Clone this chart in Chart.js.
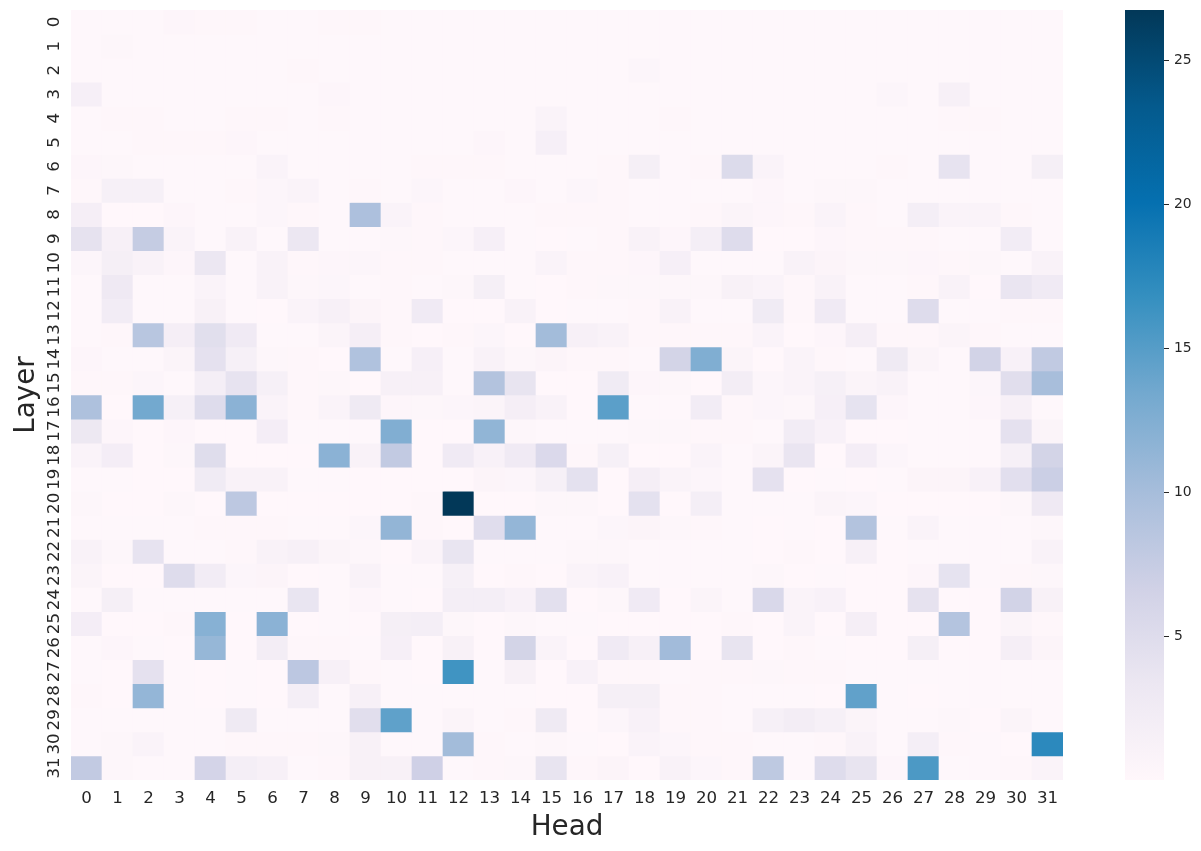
<!DOCTYPE html>
<html>
<head>
<meta charset="utf-8">
<style>
html,body{margin:0;padding:0;background:#fff;width:1201px;height:851px;overflow:hidden}
canvas{position:absolute;top:0;display:block}
</style>
<script src="https://cdn.jsdelivr.net/npm/chart.js@4"></script>
</head>
<body>
<canvas id="main" width="1201" height="851" style="left:0"></canvas>
<canvas id="bar" width="76" height="851" style="left:1125px"></canvas>
<script>
const heads = Array.from({length:32},(_,i)=>String(i));
const layers = Array.from({length:32},(_,i)=>i);
const vmin = 0.0, vmax = 26.74;
const colorbarTicks = [5,10,15,20,25];
const pubu = ['#fff7fb','#ece7f2','#d0d1e6','#a6bddb','#74a9cf','#3690c0','#0570b0','#045a8d','#023858'];

const values = [
/* 0*/[.1,.1,.1,.4,.2,.2,.1,.1,  .2,.2,.1,.1,.1,.1,.1,.1,  .1,.1,.1,.1,.1,.1,.1,.1,  .1,.1,.1,.1,.1,.1,.1,.1],
/* 1*/[.1,.3,.1,.1,.1,.1,.1,.1,  .1,.1,.1,.1,.1,.1,.1,.1,  .1,.1,.1,.1,.1,.1,.1,.1,  .1,.1,.1,.1,.1,.1,.1,.1],
/* 2*/[.1,.1,.1,.1,.1,.1,.1,.2,  .1,.1,.1,.1,.1,.1,.1,.1,  .1,.1,.5,.1,.1,.1,.1,.1,  .1,.1,.1,.1,.1,.1,.1,.1],
/* 3*/[1.6,.1,.1,.1,.1,.1,.1,.1,  .4,.1,.1,.1,.1,.1,.1,.1,  .1,.1,.1,.1,.1,.1,.1,.1,  .1,.1,.5,.1,1.4,.1,.1,.1],
/* 4*/[.1,.2,.2,.1,.1,.2,.2,.1,  .2,.1,.1,.1,.1,.1,.1,.9,  .1,.1,.1,.2,.1,.1,.1,.1,  .1,.1,.1,.1,.2,.2,.1,.1],
/* 5*/[.1,.1,.2,.2,.2,.4,.1,.1,  .1,.1,.1,.1,.1,.4,.1,1.6,  .1,.1,.1,.1,.1,.1,.1,.1,  .1,.1,.1,.1,.1,.1,.1,.1],
/* 6*/[.4,.3,.1,.1,.1,.1,.8,.1,  .1,.1,.1,.2,.2,.2,.1,.1,  .1,.2,1.7,.1,.2,5.2,.8,.1,  .1,.1,.2,.1,3.9,.1,.1,1.7],
/* 7*/[.2,1.5,1.5,.1,.1,.2,.5,.9,  .1,.2,.1,.5,.1,.1,.4,.1,  .5,.2,.1,.1,.1,.1,.4,.1,  .3,.3,.1,.1,.1,.1,.1,.1],
/* 8*/[1.8,.05,.05,.4,.1,.1,.5,.2,  .1,9.5,.9,.2,.1,.1,.1,.2,  .2,.2,.1,.1,.2,.7,.4,.2,  .8,.2,.1,1.9,.9,.9,.2,.1],
/* 9*/[4.1,1.4,7.6,.9,.1,1.0,.1,3.4,  .1,.1,.3,.2,.5,1.6,.1,.05,  .1,.2,1.0,.4,1.9,5.0,.05,.05,  .4,.2,.2,.2,.1,.1,2.2,.1],
/*10*/[.5,1.7,1.0,.4,3.3,.1,1.0,.2,  .4,.5,.2,.2,.1,.1,.1,.9,  .2,.2,.4,1.6,.1,.1,.1,1.1,  .6,.3,.3,.4,.2,.3,.1,1.1],
/*11*/[.1,2.9,.1,.1,.8,.1,1.0,.3,  .5,.1,.2,.1,.3,1.7,.1,.05,  .2,.3,.3,.3,.3,1.3,.8,.2,  1.0,.1,.1,.2,1.0,.05,3.6,2.7],
/*12*/[.1,2.3,.1,.1,1.3,.1,.05,.9,  1.4,.6,.2,2.7,.05,.05,1.0,.05,  .1,.1,.2,1.0,.1,.1,2.6,.2,  2.7,.1,.1,5.0,.1,.1,.2,.2],
/*13*/[.1,.2,8.6,1.8,4.6,2.7,.1,.1,  .7,1.8,.2,.05,.2,.5,.05,10.2,  1.4,1.1,.2,.2,.2,.2,.9,.05,  .4,1.8,.2,.2,.7,.2,.1,.1],
/*14*/[.4,.1,.1,.7,4.2,1.5,.3,.2,  .05,9.2,.1,1.6,.1,1.0,.3,.6,  .2,.2,.1,6.3,12.6,.7,.05,.8,  .2,.1,2.8,.7,.1,6.4,1.2,7.9],
/*15*/[.2,.2,.5,.1,1.9,3.9,1.5,.2,  .3,.05,1.4,1.4,.1,9.0,3.8,.05,  .05,2.6,.4,.3,.05,2.1,.5,.8,  1.5,.7,1.1,.1,.1,.5,4.7,9.9],
/*16*/[9.4,.05,13.4,1.5,5.0,11.8,.8,.2,  .8,2.8,.4,.3,.5,.7,1.8,1.0,  .05,14.7,.1,.1,2.3,.2,.5,.3,  1.6,4.0,.4,.1,.1,.4,1.4,.1],
/*17*/[3.2,.4,.05,.4,.05,.05,2.0,.1,  .1,.1,12.5,.05,.05,11.4,.3,.1,  .1,.1,.3,.3,.2,.2,.1,2.2,  1.2,.05,.05,.1,.1,.1,4.2,.7],
/*18*/[.8,2.0,.05,.3,4.9,.05,.05,.05,  11.8,1.0,7.8,.05,2.7,1.2,2.7,5.4,  .2,1.5,.05,.05,.9,.1,.7,3.6,  .05,2.0,.5,.1,.1,.1,1.5,6.3],
/*19*/[.1,.1,.05,.05,2.6,1.0,1.0,.1,  .1,.05,.05,.05,.05,.6,.5,1.5,  4.3,.05,1.8,.8,.5,.1,4.2,.05,  .1,.05,.1,.6,.6,1.2,4.5,7.1],
/*20*/[.3,.05,.05,.3,.05,8.2,.05,.05,  .05,.05,.05,.2,26.74,.05,.05,.3,  .3,.05,4.3,.05,1.9,.1,.1,.1,  .7,.5,.05,.05,.05,.05,.3,2.9],
/*21*/[.1,.1,.1,.1,.2,.2,.2,.1,  .1,.5,11.3,.2,.05,4.8,11.2,.1,  .1,.5,.6,.3,.2,.1,.05,.1,  .05,9.0,.1,.8,.1,.1,.1,.3],
/*22*/[1.0,.3,3.9,.1,.1,.2,1.1,1.4,  .7,.3,.05,.8,3.7,.1,.1,.1,  .3,.3,.1,.1,.1,.1,.05,.2,  .05,1.4,.05,.1,.1,.1,.1,1.1],
/*23*/[.7,.05,.05,5.0,2.2,.5,.6,.05,  .1,1.0,.1,.1,1.5,.05,.2,.05,  .9,1.2,.1,.1,.1,.1,.3,.05,  .1,.05,.05,.4,4.0,.1,.2,.3],
/*24*/[.1,1.7,.1,.1,.1,.1,.1,3.7,  .1,.4,.1,.05,1.9,1.9,1.2,4.4,  .05,.3,2.7,.05,.7,.1,5.6,.8,  1.2,.05,.05,4.1,.05,.05,6.4,1.3],
/*25*/[2.0,.05,.05,.2,12.1,.05,11.8,.05,  .1,.05,1.7,1.9,.3,.05,.3,.1,  .1,.05,.05,.05,.05,.2,.05,.8,  .05,1.8,.05,.05,8.9,.05,.7,.2],
/*26*/[.1,.4,.1,.05,11.1,.05,2.1,.2,  .2,.1,1.6,.05,1.3,.05,6.3,.9,  .05,2.7,1.4,10.3,.05,3.8,.05,.2,  .1,.05,.05,1.7,.05,.05,1.8,.6],
/*27*/[.1,.05,4.2,.1,.05,.1,.05,8.3,  1.4,.2,.1,.05,16.2,.1,1.3,.05,  1.2,.2,.2,.1,.2,.2,.3,.2,  .2,.1,.1,.1,.1,.1,.1,.1],
/*28*/[.2,.05,11.2,.1,.05,.1,.05,1.9,  .1,1.4,.1,.1,.1,.1,.1,.05,  .05,1.7,1.7,.2,.2,.1,.1,.1,  .05,14.4,.1,.05,.1,.1,.1,.1],
/*29*/[.1,.1,.1,.1,.1,2.8,.1,.1,  .1,4.7,14.5,.1,.7,.1,.2,2.8,  .05,.5,1.2,.2,.2,.1,1.5,2.1,  1.5,.7,.1,.1,.3,.05,.7,.1],
/*30*/[.1,.3,.8,.1,.1,.2,.2,.2,  .3,1.3,.1,.1,10.2,.2,.1,.3,  .1,.05,.9,.5,.2,.2,.1,.1,  .2,1.1,.1,1.9,.2,.1,.05,17.4],
/*31*/[7.8,.3,.1,.1,6.2,1.9,1.4,.1,  .2,1.3,1.3,6.8,.1,.2,.3,3.8,  .2,.6,.05,1.0,.5,.2,8.1,.1,  5.0,3.8,.4,15.5,.1,.1,.2,.9]
];

function hexToRgb(h){return [1,3,5].map(i=>parseInt(h.slice(i,i+2),16));}
function colorFor(v){
  const t = Math.min(1,Math.max(0,(v-vmin)/(vmax-vmin)))*(pubu.length-1);
  const i = Math.min(pubu.length-2,Math.floor(t)), f=t-i;
  const a=hexToRgb(pubu[i]), b=hexToRgb(pubu[i+1]);
  return 'rgb('+a.map((x,k)=>Math.round(x+(b[k]-x)*f)).join(',')+')';
}

const TXT='#262626', FF='"DejaVu Sans"';
const noPad = s=>{s.paddingTop=0;s.paddingBottom=0;s.paddingLeft=0;s.paddingRight=0;};

new Chart(document.getElementById('main'),{
  type:'bar',
  data:{
    labels:heads,
    datasets:layers.map(l=>({
      label:'Layer '+l,
      data:heads.map(()=>[l,l+1]),
      backgroundColor:ctx=>colorFor(values[l][ctx.dataIndex]),
      borderWidth:0,
      barPercentage:1,
      categoryPercentage:1,
      grouped:false
    }))
  },
  options:{
    responsive:false,animation:false,
    layout:{padding:{top:10,right:138,left:0,bottom:0}},
    plugins:{legend:{display:false},tooltip:{enabled:false},title:{display:false}},
    scales:{
      x:{
        grid:{display:false,drawTicks:false},border:{display:false},
        ticks:{color:TXT,font:{family:FF,size:16.67},padding:9,maxRotation:0,minRotation:0,autoSkip:false},
        title:{display:true,text:'Head',color:TXT,font:{family:FF,size:27.8},padding:{top:0,bottom:7}},
        afterFit:s=>{s.height=71;noPad(s);}
      },
      y:{
        type:'linear',reverse:true,min:0,max:32,
        grid:{display:false,drawTicks:false},border:{display:false},
        afterBuildTicks:s=>{s.ticks=layers.map(l=>({value:l+0.5}));},
        ticks:{color:TXT,font:{family:FF,size:16.67},padding:6,minRotation:90,maxRotation:90,crossAlign:'center',autoSkip:false,
          callback:v=>String(v-0.5)},
        title:{display:true,text:'Layer',color:TXT,font:{family:FF,size:27.8},padding:{top:10,bottom:0}},
        afterFit:s=>{s.width=71;noPad(s);}
      }
    }
  }
});

new Chart(document.getElementById('bar'),{
  type:'bar',
  data:{
    labels:['colorbar'],
    datasets:[{
      data:[[vmin,vmax]],
      borderWidth:0,barPercentage:1,categoryPercentage:1,
      backgroundColor:ctx=>{
        const a=ctx.chart.chartArea; if(!a) return pubu[4];
        const g=ctx.chart.ctx.createLinearGradient(0,a.bottom,0,a.top);
        pubu.forEach((c,i)=>g.addColorStop(i/(pubu.length-1),c));
        return g;
      }
    }]
  },
  options:{
    responsive:false,animation:false,
    layout:{padding:{top:10,bottom:71,left:0,right:0}},
    plugins:{legend:{display:false},tooltip:{enabled:false}},
    scales:{
      x:{display:false},
      y:{
        position:'right',min:vmin,max:vmax,
        grid:{drawOnChartArea:false,drawTicks:true,tickLength:5,tickColor:TXT,tickWidth:1},
        border:{display:false},
        afterBuildTicks:s=>{s.ticks=colorbarTicks.map(v=>({value:v}));},
        ticks:{color:TXT,font:{family:FF,size:13.9},padding:5,autoSkip:false},
        afterFit:s=>{s.width=37;noPad(s);}
      }
    }
  }
});
</script>
</body>
</html>
